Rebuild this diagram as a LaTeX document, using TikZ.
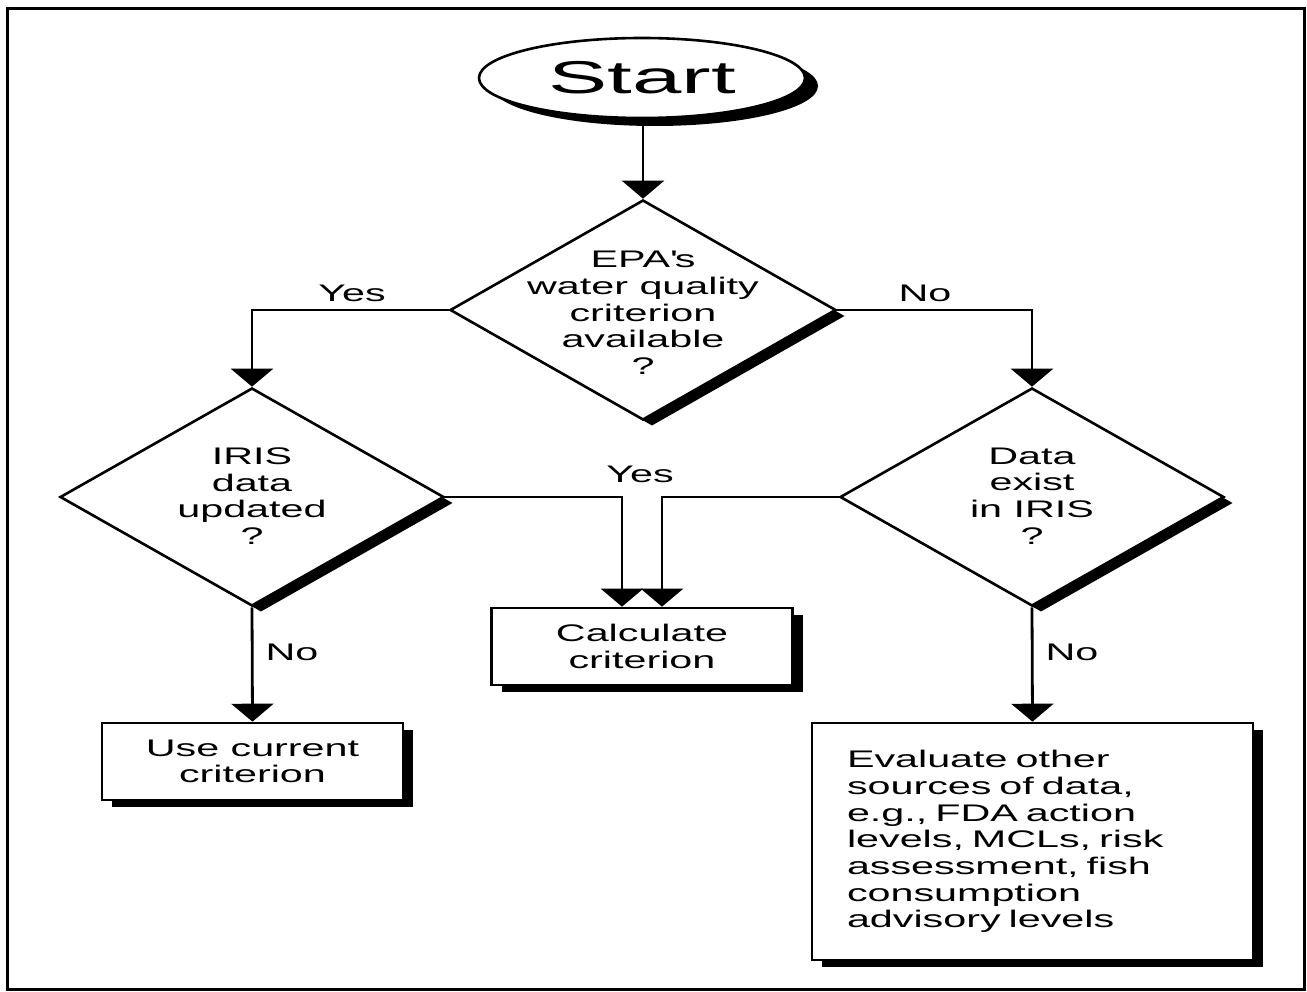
\documentclass[tikz,border=0pt]{standalone}
\usepackage{fontspec}
\setmainfont{Liberation Sans}[FakeStretch=1.72]
\newfontfamily\startfont{Liberation Sans}[FakeStretch=1.93]
\usetikzlibrary{shapes.geometric,shadows,arrows.meta}
\begin{document}
\begin{tikzpicture}[x=1pt,y=-1pt,
  every node/.style={font=\fontsize{24}{26.7}\selectfont},
  shapeline/.style={draw=black, line width=2.6pt, fill=white, inner sep=0pt},
  diashadow/.style={drop shadow={shadow xshift=9pt, shadow yshift=-6pt, fill=black, opacity=1}},
  boxshadow/.style={drop shadow={shadow xshift=10pt, shadow yshift=-7pt, fill=black, opacity=1}},
  decision/.style={shapeline, diashadow, shape=diamond, minimum width=386pt, minimum height=220pt},
  process/.style={shapeline, boxshadow, shape=rectangle, align=center},
  arr/.style={line width=2.8pt, -{Triangle[width=42pt,length=18pt]}},
  lbl/.style={inner sep=0pt}
]
\useasboundingbox (0,0) rectangle (1307,992);
\draw[line width=3pt] (7,9) rectangle (1304,989);

% start
\node[shapeline, drop shadow={shadow xshift=13pt, shadow yshift=-8pt, fill=black, opacity=1},
      shape=ellipse, minimum width=326pt, minimum height=80pt,
      font=\startfont\fontsize{46}{50}\selectfont] (start) at (642,78) {Start};

% decisions
\node[decision] (d1) at (643,310) {};
\node[align=center] (d1t) at (643,313) {EPA\textquotesingle s\\water quality\\criterion\\available\\?};

\node[decision, minimum width=384pt, minimum height=218pt] (d2) at (252,497) {};
\node[align=center] (d2t) at (252,496) {IRIS\\data\\updated\\?};

\node[decision, minimum width=384pt, minimum height=218pt] (d3) at (1032,497) {};
\node[align=center] (d3t) at (1032,496) {Data\\exist\\in IRIS\\?};

% processes
\node[process, minimum width=301pt, minimum height=77pt] (calc) at (642,646.5) {Calculate\\criterion};
\node[process, minimum width=301pt, minimum height=77pt] (use) at (252.5,761.5) {Use current\\criterion};
\node[process, minimum width=441pt, minimum height=237pt, text width=371pt, align=left] (eval) at (1032.5,841.5)
  {Evaluate other\\sources of data,\\e.g., FDA action\\levels, MCLs, risk\\assessment, fish\\consumption\\advisory levels};

% connectors
\draw[arr] (start.south -| d1.north) -- (d1.north);
\draw[arr] (d1.west) -| (d2.north);
\draw[arr] (d1.east) -| (d3.north);
\draw[arr] (d2.east) -| ([xshift=-20pt]calc.north);
\draw[arr] (d3.west) -| ([xshift=20pt]calc.north);
\draw[arr] (d2.south) -- (use.north);
\draw[arr] (d3.south) -- (eval.north);

% labels
\node[lbl] (yes1) at (352,293) {Yes};
\node[lbl] (no1) at (925,293) {No};
\node[lbl] (yes2) at (640,474) {Yes};
\node[lbl] (no2) at (292,652) {No};
\node[lbl] (no3) at (1072,652) {No};
\end{tikzpicture}
\end{document}
